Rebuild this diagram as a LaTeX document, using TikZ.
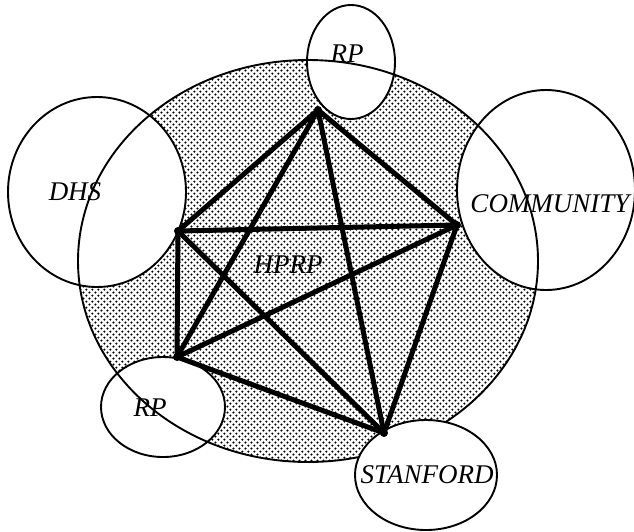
\documentclass[tikz,border=0pt]{standalone}
\usepackage{fontspec}
\setmainfont{Liberation Serif}
\usetikzlibrary{shapes.geometric,patterns.meta}
\tikzdeclarepattern{
  name=scandots,
  bounding box={(0pt,0pt) and (6.4pt,6.4pt)},
  tile size={(6.4pt,6.4pt)},
  code={\fill (1.6pt,1.6pt) circle (1.3pt); \fill (4.8pt,4.8pt) circle (1.3pt);}
}
\begin{document}
\begin{tikzpicture}[x=1pt,y=-1pt,
  bubble/.style={ellipse,inner sep=0pt,fill=white},
  outline/.style={line width=1.9pt},
  link/.style={line width=5pt,line cap=round,line join=round},
  lbl/.style={font=\itshape\fontsize{27}{27}\selectfont,inner sep=0pt}]
\useasboundingbox (0,0) rectangle (634,531);
% big shaded ellipse
\node[ellipse,inner sep=0pt,minimum width=460pt,minimum height=402pt,
      pattern={scandots},pattern color=black] (big) at (308,261) {};
% white-filled satellites
\node[bubble,minimum width=178pt,minimum height=190pt] (dhs) at (97,192) {};
\node[bubble,minimum width=178pt,minimum height=200pt] (com) at (546,190) {};
\node[bubble,minimum width=88pt,minimum height=114pt] (rpt) at (351,62) {};
\node[bubble,minimum width=124pt,minimum height=100pt] (rpb) at (163,407) {};
% outlines
\draw[outline] (big.center) ellipse [x radius=230pt,y radius=201pt];
\draw[outline] (dhs.center) ellipse [x radius=89pt,y radius=95pt];
\draw[outline] (com.center) ellipse [x radius=89pt,y radius=100pt];
\draw[outline] (rpt.center) ellipse [x radius=44pt,y radius=57pt];
\draw[outline] (rpb.center) ellipse [x radius=62pt,y radius=50pt];
\node[bubble,draw,outline,minimum width=142pt,minimum height=110pt] (stf) at (426,475) {};
% vertices
\coordinate (T) at (318,110);
\coordinate (L) at (178,231);
\coordinate (R) at (457,225);
\coordinate (BL) at (177,357);
\coordinate (B) at (384,433);
\draw[link] (T) -- (L);
\draw[link] (T) -- (R);
\draw[link] (T) -- (BL);
\draw[link] (T) -- (B);
\draw[link] (L) -- (R);
\draw[link] (L) -- (BL);
\draw[link] (L) -- (B);
\draw[link] (R) -- (BL);
\draw[link] (R) -- (B);
\draw[link] (BL) -- (B);
\foreach \v in {T,L,R,BL,B} \fill (\v) circle (4pt);
% labels
\node[lbl] (trp) at (347,54) {RP};
\node[lbl] (tdhs) at (75,192) {DHS};
\node[lbl] (tcom) at (550,204) {COMMUNITY};
\node[lbl] (thprp) at (288,265) {HPRP};
\node[lbl] (trpb) at (150,408) {RP};
\node[lbl] (tstf) at (427,475) {STANFORD};
\end{tikzpicture}
\end{document}
